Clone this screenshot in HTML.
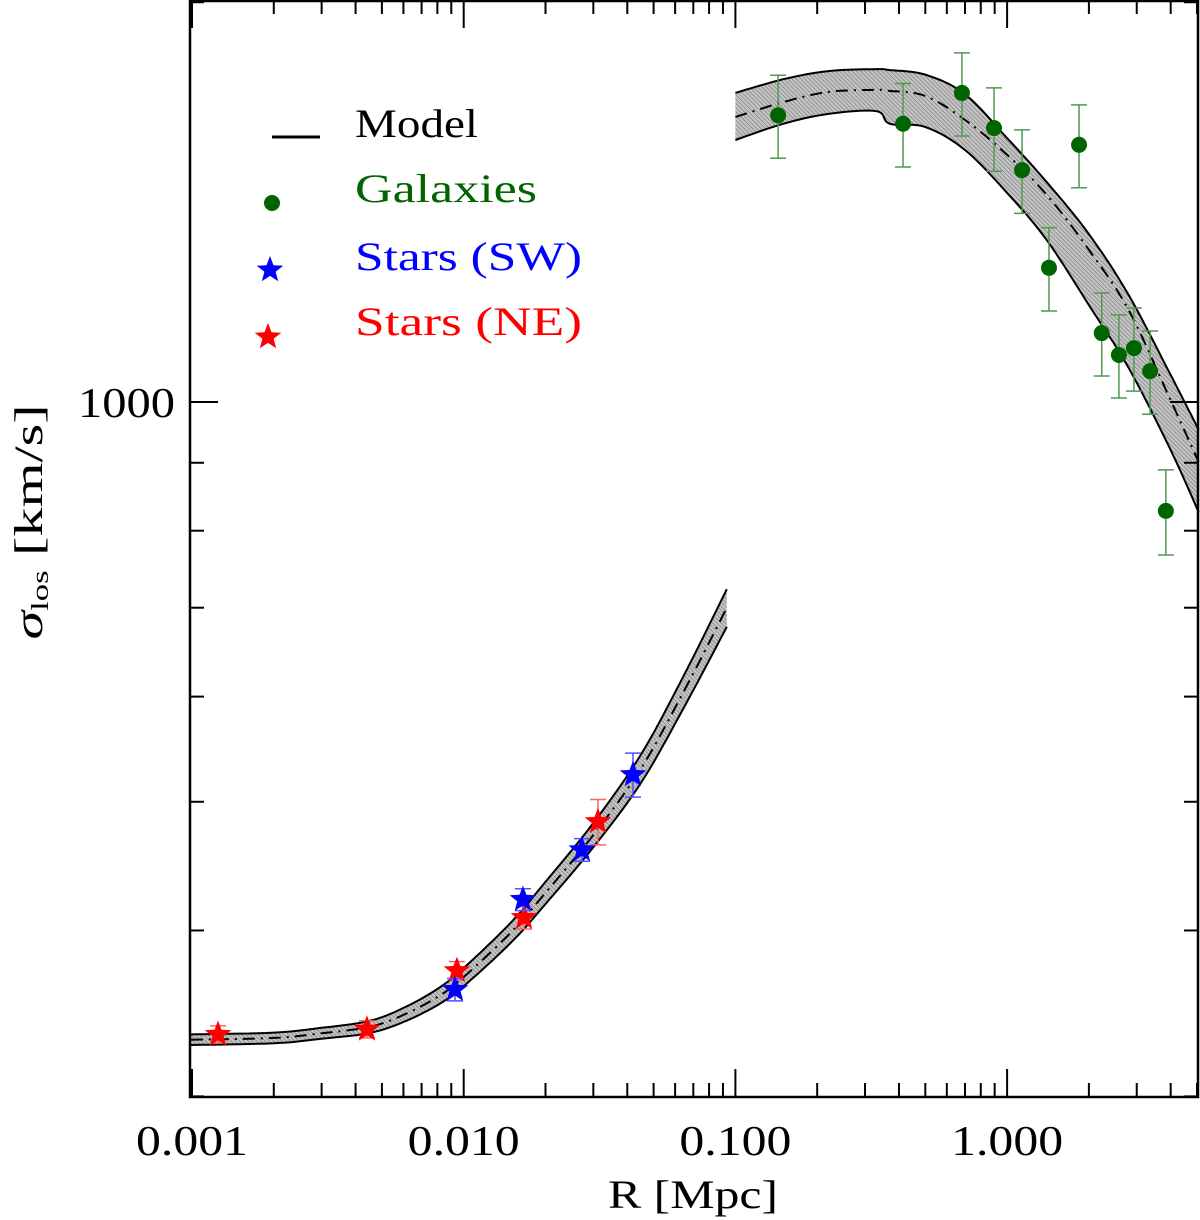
<!DOCTYPE html>
<html><head><meta charset="utf-8"><style>
html,body{margin:0;padding:0;background:#fff}
svg{display:block}
text{font-family:"Liberation Serif","DejaVu Serif",serif}
</style></head><body>
<svg id="chart" width="1200" height="1220" viewBox="0 0 1200 1220" xmlns="http://www.w3.org/2000/svg">
<defs>
<pattern id="hatch" patternUnits="userSpaceOnUse" width="3" height="3" patternTransform="rotate(-45)">
<rect width="3" height="3" fill="#c4c4c4"/><line x1="0" y1="0" x2="0" y2="3" stroke="#707070" stroke-width="1.1"/>
</pattern>
</defs>
<g id="bands"></g>
<g id="marks"></g>
<g id="axes"></g>
<g id="legend">
<line x1="272" y1="137" x2="320" y2="137" stroke="#000" stroke-width="3"/>
<text x="355" y="137" font-size="40" textLength="123" lengthAdjust="spacingAndGlyphs" fill="#000">Model</text>
<circle cx="272" cy="203" r="8" fill="#006400"/>
<text x="355" y="202" font-size="40" textLength="182" lengthAdjust="spacingAndGlyphs" fill="#006400">Galaxies</text>
<text x="355" y="270" font-size="40" textLength="227" lengthAdjust="spacingAndGlyphs" fill="#0000ff">Stars (SW)</text>
<text x="355" y="335" font-size="40" textLength="227" lengthAdjust="spacingAndGlyphs" fill="#ff0000">Stars (NE)</text>
</g>
<text x="693" y="1208" font-size="40" text-anchor="middle" textLength="170" lengthAdjust="spacingAndGlyphs">R [Mpc]</text>
<text transform="translate(42,522) rotate(-90)" font-size="40" text-anchor="middle" textLength="235" lengthAdjust="spacingAndGlyphs"><tspan font-style="italic">σ</tspan><tspan font-size="24" dy="6">los</tspan><tspan dy="-6"> [km/s]</tspan></text>
</svg>
<script>
// ---- data ----
const rIn=[0.00099,0.002,0.003,0.0045,0.006,0.008,0.01,0.015,0.02,0.03,0.045,0.065,0.093];
const sIn=[331,332,334.7,338.4,345.5,356.4,369,399,427,472,530,607,700];
const bandIn=[0.0092,0.0092,0.0095,0.0105,0.0122,0.014,0.0157,0.0175,0.0192,0.021,0.0246,0.028,0.0326];
const rOut=[0.1,0.15,0.22,0.33,0.37,0.5,0.7,1.0,1.4,2.0,2.8,4.0,5.07];
const sOut=[1639,1682,1712,1718,1715,1700,1631,1535,1432,1302,1173,1003,901];
const hiOut=[1709,1750,1775,1781,1778,1764,1705,1580,1464,1338,1204,1048,953];
const loOut=[1575,1620,1648,1656,1620,1611,1548,1437,1324,1183,1061,920,826];
const galR=[0.1436,0.414,0.682,0.895,1.135,1.84,1.426,2.23,2.58,2.93,3.36,3.84];
const galS=[1644,1620,1709,1608,1495,1562,1262,1127,1085,1098,1055,828];
const galErr=[118,117,123,116,108,112,91,81,78,79,76,61];
const swR=[0.00929,0.01652,0.02724,0.04198];
const swS=[361,422,460,524];
const swErr=[7,8,9,20];
const neR=[0.001247,0.004406,0.00944,0.01667,0.0312];
const neS=[334,337,373,409,483];
const neErr=[5,5,6,8,19];
const xTickLabels=["0.001","0.010","0.100","1.000"];
const xTickVals=[0.001,0.01,0.1,1];
const yTickVals=[300,400,500,600,700,800,900,1000,2000];
const yTickLabels=["","","","","","","","1000",""];

// ---- axes functions ----
const X0=190,X1=1198,Y0=0,Y1=1097;
const xs=v=>192+271.7*(Math.log10(v)+3);
const ys=v=>402-1328*Math.log10(v/1000);
const NS="http://www.w3.org/2000/svg";
function mk(tag,attrs,parent){const e=document.createElementNS(NS,tag);for(const k in attrs)e.setAttribute(k,attrs[k]);parent.appendChild(e);return e;}
const bands=document.getElementById('bands'),marks=document.getElementById('marks'),axes=document.getElementById('axes');

function smooth(pts){
  const out=[];
  for(let i=0;i<pts.length-1;i++){
    const p0=pts[Math.max(0,i-1)],p1=pts[i],p2=pts[i+1],p3=pts[Math.min(pts.length-1,i+2)];
    for(let k=0;k<10;k++){
      const t=k/10,t2=t*t,t3=t2*t;
      const f=(a,b,c,d)=>0.5*((2*b)+(-a+c)*t+(2*a-5*b+4*c-d)*t2+(-a+3*b-3*c+d)*t3);
      out.push([f(p0[0],p1[0],p2[0],p3[0]),f(p0[1],p1[1],p2[1],p3[1])]);
    }
  }
  out.push(pts[pts.length-1]);
  return out;
}
const toD=pts=>"M"+pts.map(p=>p[0].toFixed(1)+","+p[1].toFixed(1)).join(" L");

function drawBand(r,lo,hi,c,name){
  const up=smooth(r.map((v,i)=>[xs(v),ys(hi[i])]));
  const dn=smooth(r.map((v,i)=>[xs(v),ys(lo[i])]));
  const ce=smooth(r.map((v,i)=>[xs(v),ys(c[i])]));
  const p=mk('path',{d:toD(up.concat(dn.slice().reverse()))+" Z",fill:"url(#hatch)",stroke:"none"},bands);
  
  
  const u=mk('path',{d:toD(up),fill:"none",stroke:"#000","stroke-width":2},bands);
  
  
  const d=mk('path',{d:toD(dn),fill:"none",stroke:"#000","stroke-width":2},bands);
  
  
  const cl=mk('path',{d:toD(ce),fill:"none",stroke:"#000","stroke-width":2,"stroke-dasharray":"12 6 2 6"},bands);
  
  
}
drawBand(rIn,sIn.map((v,i)=>v*(1-bandIn[i])),sIn.map((v,i)=>v*(1+bandIn[i])),sIn,'inner-model');
drawBand(rOut,loOut,hiOut,sOut,'outer-model');

function errBar(x,v,e,color,name){
  const g=mk('g',{stroke:color,"stroke-width":1.5},marks);
  
  
  const yt=ys(v+e),yb=ys(v-e);
  mk('line',{x1:x,y1:yt,x2:x,y2:yb},g);
  mk('line',{x1:x-8,y1:yt,x2:x+8,y2:yt},g);
  mk('line',{x1:x-8,y1:yb,x2:x+8,y2:yb},g);
}
function starPath(cx,cy,R){
  const r=R*0.42;let d="";
  for(let i=0;i<10;i++){const a=-Math.PI/2+i*Math.PI/5;const rr=i%2?r:R;d+=(i?"L":"M")+(cx+rr*Math.cos(a)).toFixed(1)+","+(cy+rr*Math.sin(a)).toFixed(1);}
  return d+"Z";
}
galR.forEach((r,i)=>{
  const x=xs(r);
  errBar(x,galS[i],galErr[i],"#4f9a4f",'galaxy-errorbar');
  const c=mk('circle',{cx:x,cy:ys(galS[i]),r:8,fill:"#006400"},marks);
  
  
});
function stars(R,S,E,col,ecol,name){
  R.forEach((r,i)=>{
    const x=xs(r);
    errBar(x,S[i],E[i],ecol,name+'-errorbar');
    const p=mk('path',{d:starPath(x,ys(S[i]),14),fill:col},marks);
    
    
  });
}
stars(neR,neS,neErr,"#ff0000","#ff6060",'star-ne');
stars(swR,swS,swErr,"#0000ff","#5050ff",'star-sw');

const lg=document.getElementById('legend');
const ls1=mk('path',{d:starPath(270,270,14),fill:"#0000ff"},lg);


const ls2=mk('path',{d:starPath(268,337,14),fill:"#ff0000"},lg);



const fr=mk('rect',{x:X0,y:Y0+1,width:X1-X0,height:Y1-1,fill:"none",stroke:"#000","stroke-width":2.5},axes);


for(let dec=-3;dec<=0;dec++){
  for(let m=1;m<=9;m++){
    const v=m*Math.pow(10,dec);const x=xs(v);
    if(x<X0||x>X1)continue;
    const L=m===1?28:14;
    const t1=mk('line',{x1:x,y1:Y1,x2:x,y2:Y1-L,stroke:"#000","stroke-width":2},axes);
    
    
    const t2=mk('line',{x1:x,y1:Y0,x2:x,y2:Y0+L,stroke:"#000","stroke-width":2},axes);
    
    
  }
}
xTickVals.forEach((v,i)=>{
  const t=mk('text',{x:xs(v),y:1155,"font-size":42,"text-anchor":"middle",textLength:112,lengthAdjust:"spacingAndGlyphs"},axes);
  t.textContent=xTickLabels[i];
  
  
});
yTickVals.forEach((v,i)=>{
  const y=ys(v);if(y<Y0||y>Y1)return;
  const L=v===1000?28:14;
  const t1=mk('line',{x1:X0,y1:y,x2:X0+L,y2:y,stroke:"#000","stroke-width":2},axes);
  
  
  const t2=mk('line',{x1:X1,y1:y,x2:X1-L,y2:y,stroke:"#000","stroke-width":2},axes);
  
  
  if(yTickLabels[i]){
    const t=mk('text',{x:175,y:y+15,"font-size":42,"text-anchor":"end",textLength:97,lengthAdjust:"spacingAndGlyphs"},axes);
    t.textContent=yTickLabels[i];
    
    
  }
});
</script>
</body></html>
